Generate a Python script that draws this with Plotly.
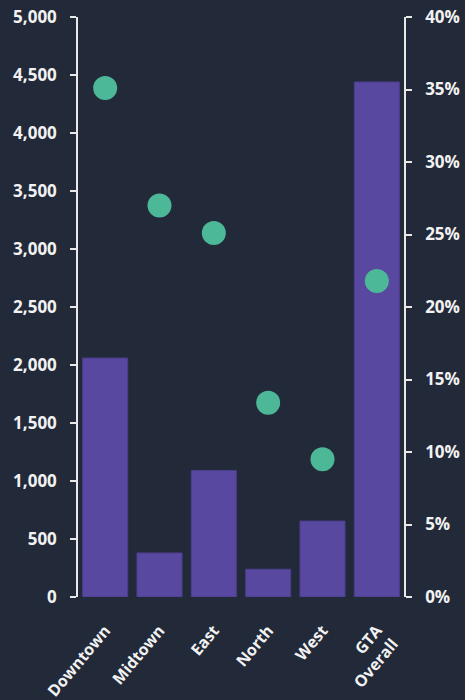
import plotly.graph_objects as go

categories = ["Downtown", "Midtown", "East", "North", "West", "GTA<br>Overall"]
bar_values = [2060, 380, 1090, 240, 655, 4440]
pct_values = [35.1, 27.0, 25.1, 13.4, 9.5, 21.8]

bg = "#222938"
font = dict(family="Open Sans", color="#f2f2f2", size=15)

fig = go.Figure()
fig.add_trace(go.Bar(
    x=categories, y=bar_values,
    marker=dict(color="#5848a0", line=dict(color="#4a3d8a", width=1)),
    yaxis="y",
))
fig.add_trace(go.Scatter(
    x=categories, y=pct_values, mode="markers",
    marker=dict(color="#4db898", size=24),
    yaxis="y2",
))

axis_common = dict(
    showgrid=False, zeroline=False, showline=True, linecolor="#e8e8e8", linewidth=1.5,
    ticks="outside", ticklen=6, tickcolor="#e8e8e8", tickwidth=1.5,
    ticklabelstandoff=10, automargin=False,
    tickfont=dict(family="Open Sans", size=17, color="#f2f2f2", weight="bold"),
)

fig.update_layout(
    width=465, height=700,
    paper_bgcolor=bg, plot_bgcolor=bg,
    font=font,
    showlegend=False,
    margin=dict(l=78, r=61, t=17, b=103),
    bargap=0.17,
    xaxis=dict(
        showgrid=False, zeroline=False, showline=False, ticks="",
        range=[-0.5, len(categories) - 0.5],
        tickangle=-50, automargin=False, ticklabelstandoff=20,
        tickfont=dict(family="Open Sans", size=16, color="#f2f2f2", weight="bold"),
    ),
    yaxis=dict(range=[0, 5000], dtick=500, tickformat=",", **axis_common),
    yaxis2=dict(range=[0, 40], dtick=5, ticksuffix="%", overlaying="y", side="right",
                **axis_common),
)

fig.write_html("out.html", config={"displayModeBar": False},
               post_script="document.body.style.margin='0';document.body.style.background='#222938';")
